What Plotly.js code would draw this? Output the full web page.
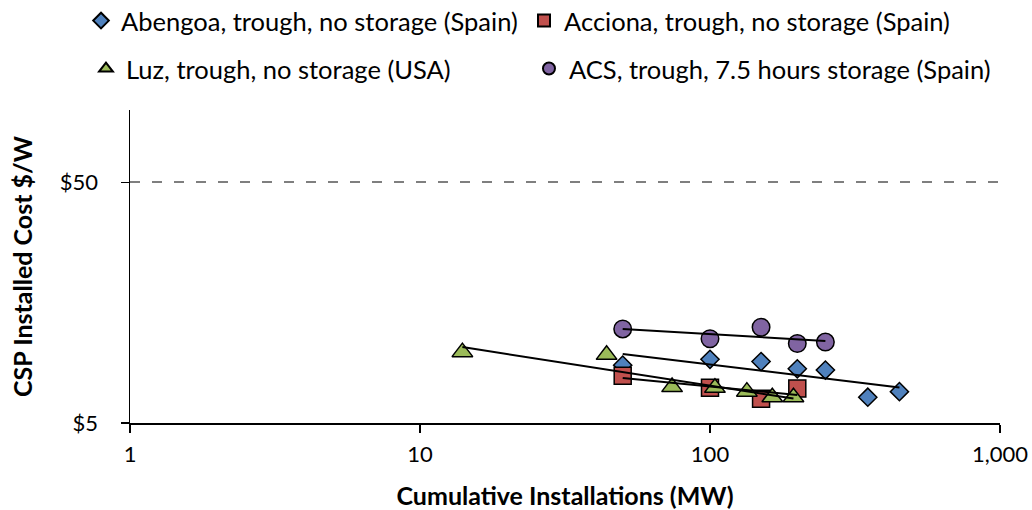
<!DOCTYPE html>
<html>
<head>
<meta charset="utf-8">
<script src="https://cdn.plot.ly/plotly-3.0.1.min.js"></script>
<style>
  html, body { margin: 0; padding: 0; background: #fff; }
  #chart { width: 1032px; height: 510px; }
</style>
</head>
<body>
<div id="chart"></div>
<script>
// Cumulative installed capacity (MW) vs. installed cost ($/W) for parabolic trough CSP developers
const abengoaX = [50, 100, 150, 200, 250, 350, 450];
const abengoaY = [8.7, 9.2, 9.0, 8.4, 8.3, 6.4, 6.75];

const accionaX = [50, 100, 150, 200];
const accionaY = [7.85, 7.0, 6.3, 6.95];

const luzX = [14, 44, 74, 104, 134, 164, 194];
const luzY = [9.85, 9.6, 7.05, 7.0, 6.75, 6.4, 6.4];

const acsX = [50, 100, 150, 200, 250];
const acsY = [12.3, 11.2, 12.5, 10.7, 10.85];

const seriesNames = [
  'Abengoa, trough, no storage (Spain)',
  'Acciona, trough, no storage (Spain)',
  'Luz, trough, no storage (USA)',
  'ACS, trough, 7.5 hours storage (Spain)'
];

const xTickVals = [1, 10, 100, 1000];
const xTickText = ['1', '10', '100', '1,000'];
const yTickVals = [5, 50];
const yTickText = ['$5', '$50'];

const FONT = 'Lato, "Open Sans", sans-serif';

// Power-law (log-log least squares) trend between the first and last point of a series
function powerTrend(xs, ys) {
  const lx = xs.map(Math.log), ly = ys.map(Math.log);
  const n = xs.length;
  const mx = lx.reduce((a, b) => a + b, 0) / n;
  const my = ly.reduce((a, b) => a + b, 0) / n;
  let sxy = 0, sxx = 0;
  for (let i = 0; i < n; i++) {
    sxy += (lx[i] - mx) * (ly[i] - my);
    sxx += (lx[i] - mx) * (lx[i] - mx);
  }
  const b = sxy / sxx;
  const a = my - b * mx;
  const x0 = Math.min(...xs), x1 = Math.max(...xs);
  return { x: [x0, x1], y: [Math.exp(a + b * Math.log(x0)), Math.exp(a + b * Math.log(x1))] };
}

const outline = { color: '#000', width: 1.5 };

// legendWidth: width reserved for the entry's text (sets the column spacing of the legend rows)
function pointTrace(xs, ys, name, symbol, size, color, legend, legendWidth) {
  return {
    type: 'scatter', mode: 'markers', x: xs, y: ys, name: name,
    legend: legend, legendwidth: legendWidth,
    marker: { symbol: symbol, size: size, color: color, line: outline },
    hoverinfo: 'x+y'
  };
}

function trendTrace(xs, ys) {
  const t = powerTrend(xs, ys);
  return {
    type: 'scatter', mode: 'lines', x: t.x, y: t.y, showlegend: false,
    line: { color: '#000', width: 2 }, hoverinfo: 'skip'
  };
}

const data = [
  pointTrace(abengoaX, abengoaY, seriesNames[0], 'diamond', 14, '#4F81BD', 'legend', 398),
  pointTrace(accionaX, accionaY, seriesNames[1], 'square', 17, '#C0504D', 'legend', 420),
  pointTrace(luzX, luzY, seriesNames[2], 'triangle-up', 18, '#9BBB59', 'legend2', 398),
  pointTrace(acsX, acsY, seriesNames[3], 'circle', 17.5, '#8064A2', 'legend2', 430),
  trendTrace(abengoaX, abengoaY),
  trendTrace(accionaX, accionaY),
  trendTrace(luzX, luzY),
  trendTrace(acsX, acsY)
];

// Two legend rows above the plot
const legendBase = {
  orientation: 'h',
  xref: 'paper', yref: 'paper',
  xanchor: 'left', yanchor: 'middle',
  itemsizing: 'constant',
  font: { family: FONT, size: 25.5, color: '#000' },
  bgcolor: 'rgba(0,0,0,0)', borderwidth: 0
};

const layout = {
  width: 1032, height: 510,
  margin: { l: 130, r: 32, t: 110, b: 87, autoexpand: false },
  paper_bgcolor: '#fff', plot_bgcolor: '#fff',
  font: { family: FONT, color: '#000' },
  showlegend: true,
  legend: Object.assign({}, legendBase, { x: -0.0563, y: 1.2843 }),
  legend2: Object.assign({}, legendBase, { x: -0.0506, y: 1.131 }),
  xaxis: {
    type: 'log', range: [0, 3],
    tickvals: xTickVals, ticktext: xTickText,
    ticks: 'outside', ticklen: 8, tickwidth: 1.5, tickcolor: '#000',
    ticklabelstandoff: 3,
    showline: true, linecolor: '#000', linewidth: 1.5,
    showgrid: false, zeroline: false,
    tickfont: { family: FONT, size: 22, color: '#000' },
    title: { text: '<b>Cumulative Installations (MW)</b>', font: { family: FONT, size: 25, color: '#000' }, standoff: 21 }
  },
  yaxis: {
    type: 'log', range: [Math.log10(5), 2],
    tickvals: yTickVals, ticktext: yTickText,
    ticks: 'outside', ticklen: 8, tickwidth: 1.5, tickcolor: '#000',
    ticklabelstandoff: 18,
    showline: true, linecolor: '#000', linewidth: 1.5,
    showgrid: true, gridcolor: '#7f7f7f', gridwidth: 2, griddash: '10px,12px',
    zeroline: false,
    tickfont: { family: FONT, size: 22, color: '#000' },
    title: { text: '<b>CSP Installed Cost $/W</b>', font: { family: FONT, size: 25, color: '#000' }, standoff: 20 }
  }
};

Plotly.newPlot('chart', data, layout, { displayModeBar: false, staticPlot: true });
</script>
</body>
</html>
